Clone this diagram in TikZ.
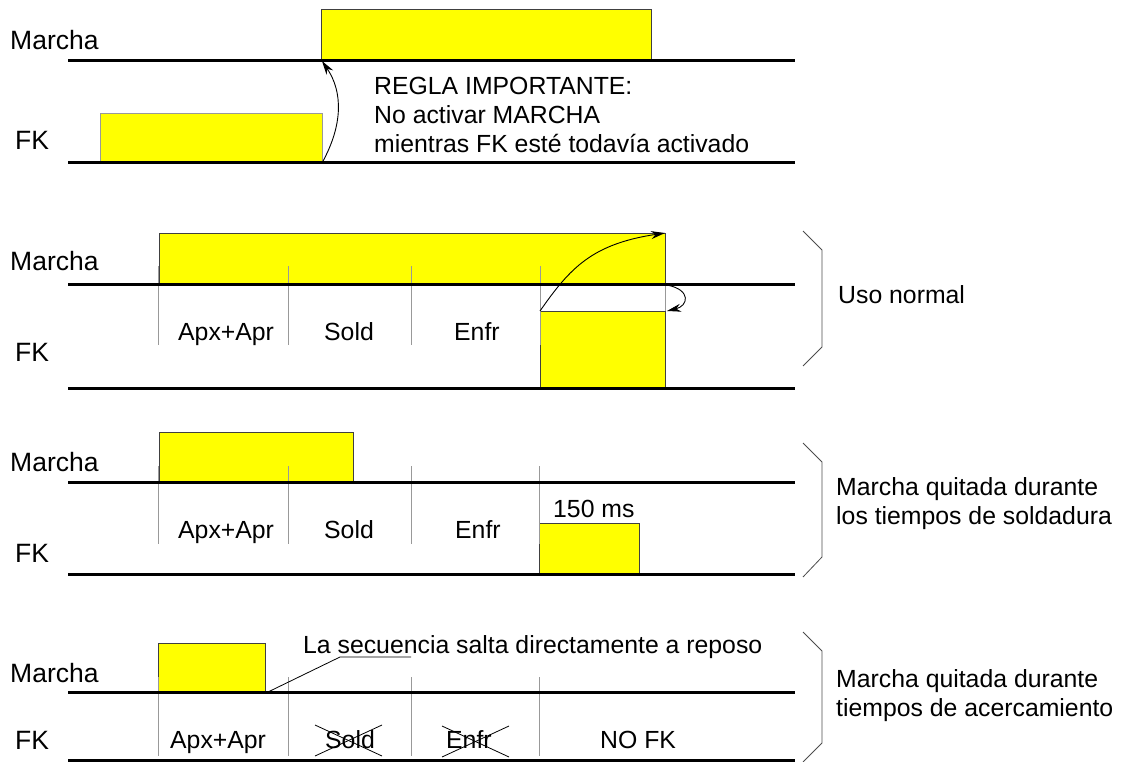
\documentclass[tikz,border=0pt]{standalone}
\usepackage{fontspec}
\setmainfont{Liberation Sans}
\usetikzlibrary{arrows.meta}
\definecolor{sigyellow}{RGB}{255,255,0}
\tikzset{
  sig/.style={line width=3pt},
  hi/.style={fill=sigyellow, draw=black!75, line width=0.8pt},
  sep/.style={draw=black!40, line width=0.8pt},
  lbl/.style={anchor=base west, inner sep=0pt, font=\fontsize{26.5}{30}\selectfont},
  txt/.style={anchor=base west, inner sep=0pt, font=\fontsize{24.8}{28}\selectfont},
  bracket/.style={draw=black!70, line width=0.8pt},
  arr/.style={-{Stealth[length=14pt,width=8pt]}, line width=0.9pt},
  thin/.style={line width=0.8pt}
}
\begin{document}
\begin{tikzpicture}[x=1pt,y=-1pt]
\useasboundingbox (0,0) rectangle (1127,762);

% ---------- Section 1 ----------
\draw[hi] (321,9) rectangle (651,61);
\draw[hi, draw=black!40] (100,113) rectangle (322,163);
\coordinate (m1s) at (68,61);  \coordinate (m1e) at (795,61);
\coordinate (f1s) at (68,163); \coordinate (f1e) at (795,163);
\draw[sig] (m1s) -- (m1e);
\draw[sig] (f1s) -- (f1e);
\node[lbl] (lm1) at (10,50) {Marcha};
\node[lbl] (lf1) at (15,150) {FK};
\coordinate (a1s) at (322,163);
\coordinate (a1e) at (322,61);
\draw[arr] (a1s) .. controls (343,125) and (343,92) .. (a1e);
\node[txt] (r1) at (374,95) {REGLA IMPORTANTE:};
\node[txt] (r2) at (374,124) {No activar MARCHA};
\node[txt] (r3) at (374,153) {mientras FK esté todavía activado};

% ---------- Section 2 ----------
\draw[hi] (159,233) rectangle (665,284);
\draw[hi] (540,311) rectangle (665,388);
\foreach \x in {158,288,411,540} \draw[sep] (\x,266) -- (\x,345);
\draw[sep] (665,284) -- (665,311);
\draw[sig] (68,284) -- (795,284);
\draw[sig] (68,388) -- (795,388);
\node[lbl] (lm2) at (10,270) {Marcha};
\node[lbl] (lf2) at (15,361) {FK};
\node[txt] (p2a) at (178,340) {Apx+Apr};
\node[txt] (p2b) at (324,340) {Sold};
\node[txt] (p2c) at (454,340) {Enfr};
\coordinate (a2s) at (540,311);
\coordinate (a2e) at (665,233);
\draw[arr] (a2s) .. controls (570,268) and (592,244) .. (a2e);
\coordinate (a3s) at (667,285);
\coordinate (a3e) at (667,311);
\draw[arr] (a3s) .. controls (692,290) and (688,306) .. (a3e);
\draw[bracket] (803,231) -- (822,250) -- (822,347) -- (803,366);
\node[txt] (u2) at (838,303) {Uso normal};

% ---------- Section 3 ----------
\draw[hi] (159,432) rectangle (353,482);
\draw[hi] (539,523) rectangle (639,574);
\foreach \x in {158,288,411,539} \draw[sep] (\x,466) -- (\x,544);
\draw[sig] (68,482) -- (795,482);
\draw[sig] (68,574) -- (795,574);
\node[lbl] (lm3) at (10,471) {Marcha};
\node[lbl] (lf3) at (15,562) {FK};
\node[txt] (p3a) at (178,538) {Apx+Apr};
\node[txt] (p3b) at (324,538) {Sold};
\node[txt] (p3c) at (455,538) {Enfr};
\node[txt] (ms) at (553,517) {150 ms};
\draw[bracket] (803,443) -- (822,462) -- (822,557) -- (803,577);
\node[txt] (u3a) at (836,495) {Marcha quitada durante};
\node[txt] (u3b) at (836,524) {los tiempos de soldadura};

% ---------- Section 4 ----------
\draw[hi] (158,643) rectangle (265,692);
\foreach \x in {158,288,411,539} \draw[sep] (\x,677) -- (\x,756);
\draw[sig] (68,692) -- (795,692);
\draw[sig] (68,760) -- (795,760);
\node[lbl] (lm4) at (10,682) {Marcha};
\node[lbl] (lf4) at (15,749) {FK};
\node[txt] (p4a) at (170,748) {Apx+Apr};
\node[txt] (p4b) at (325,748) {Sold};
\node[txt] (p4c) at (446,748) {Enfr};
\node[txt] (nofk) at (600,748) {NO FK};
\draw[thin] (315,725) -- (382,756);
\draw[thin] (315,756) -- (382,725);
\draw[thin] (442,726) -- (509,757);
\draw[thin] (442,757) -- (509,726);
\node[txt] (seq) at (303,653) {La secuencia salta directamente a reposo};
\coordinate (ld0) at (268,692);
\coordinate (ld1) at (340,657);
\coordinate (ld2) at (411,657);
\draw[thin] (ld0) -- (ld1) -- (ld2);
\draw[bracket] (803,632) -- (822,651) -- (822,743) -- (803,762);
\node[txt] (u4a) at (836,687) {Marcha quitada durante};
\node[txt] (u4b) at (836,716) {tiempos de acercamiento};
\end{tikzpicture}
\end{document}
